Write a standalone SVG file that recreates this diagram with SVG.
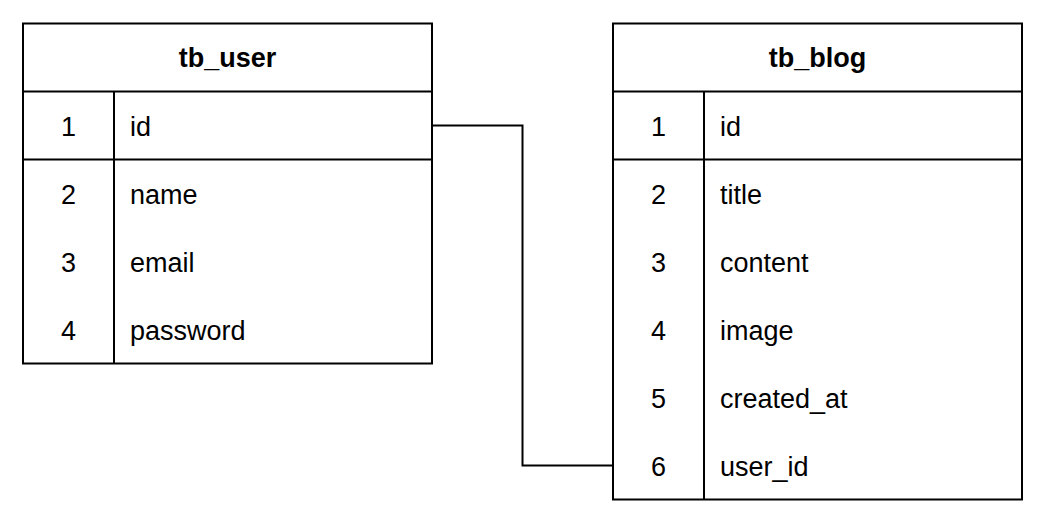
<svg xmlns="http://www.w3.org/2000/svg" width="1046" height="526" viewBox="0 0 1046 526">
  <style>
    .box { fill: #ffffff; stroke: #000000; stroke-width: 2; }
    .ln { stroke: #000000; stroke-width: 2; fill: none; }
    .hdr { font-family: "Liberation Sans", Arial, sans-serif; font-size: 27px; font-weight: bold; fill: #000000; text-anchor: middle; }
    .num { font-family: "Liberation Sans", Arial, sans-serif; font-size: 27px; fill: #000000; text-anchor: middle; }
    .fld { font-family: "Liberation Sans", Arial, sans-serif; font-size: 27px; fill: #000000; }
  </style>
  <rect width="1046" height="526" fill="#ffffff"/>
  <g id="connectors">
    <path class="ln" d="M432,125.5 H522.5 V465.5 H613"/>
  </g>
  <g id="tb_user">
    <rect class="box" x="23" y="23.5" width="409" height="340"/>
    <line class="ln" x1="23" y1="91.5" x2="432" y2="91.5"/>
    <line class="ln" x1="23" y1="159.5" x2="432" y2="159.5"/>
    <line class="ln" x1="114" y1="91.5" x2="114" y2="363.5"/>
    <text class="hdr" x="227.5" y="67">tb_user</text>
    <text class="num" x="68.5" y="136">1</text>
    <text class="fld" x="130" y="136">id</text>
    <text class="num" x="68.5" y="204">2</text>
    <text class="fld" x="130" y="204">name</text>
    <text class="num" x="68.5" y="272">3</text>
    <text class="fld" x="130" y="272">email</text>
    <text class="num" x="68.5" y="340">4</text>
    <text class="fld" x="130" y="340">password</text>
  </g>
  <g id="tb_blog">
    <rect class="box" x="613" y="23.5" width="409" height="476"/>
    <line class="ln" x1="613" y1="91.5" x2="1022" y2="91.5"/>
    <line class="ln" x1="613" y1="159.5" x2="1022" y2="159.5"/>
    <line class="ln" x1="704" y1="91.5" x2="704" y2="499.5"/>
    <text class="hdr" x="817.5" y="67">tb_blog</text>
    <text class="num" x="658.5" y="136">1</text>
    <text class="fld" x="720" y="136">id</text>
    <text class="num" x="658.5" y="204">2</text>
    <text class="fld" x="720" y="204">title</text>
    <text class="num" x="658.5" y="272">3</text>
    <text class="fld" x="720" y="272">content</text>
    <text class="num" x="658.5" y="340">4</text>
    <text class="fld" x="720" y="340">image</text>
    <text class="num" x="658.5" y="408">5</text>
    <text class="fld" x="720" y="408">created_at</text>
    <text class="num" x="658.5" y="476">6</text>
    <text class="fld" x="720" y="476">user_id</text>
  </g>
</svg>
